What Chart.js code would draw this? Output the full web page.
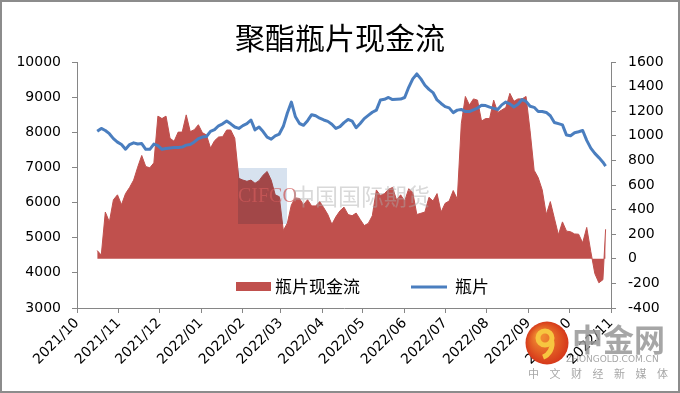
<!DOCTYPE html>
<html>
<head>
<meta charset="utf-8">
<script src="https://cdn.jsdelivr.net/npm/chart.js@4.4.0/dist/chart.umd.min.js"></script>
<style>
html, body { margin: 0; padding: 0; background: #fff; }
#wrap { width: 680px; height: 393px; }
</style>
</head>
<body>
<div id="wrap"><canvas id="myChart" width="680" height="393"></canvas></div>
<script>
// 日期
var dates = [
    '2021-10-16','2021-10-19','2021-10-22','2021-10-25','2021-10-28','2021-10-31',
    '2021-11-03','2021-11-06','2021-11-09','2021-11-12','2021-11-15','2021-11-18','2021-11-21','2021-11-24','2021-11-27','2021-11-30',
    '2021-12-03','2021-12-06','2021-12-09','2021-12-12','2021-12-15','2021-12-18','2021-12-21','2021-12-24','2021-12-27','2021-12-30',
    '2022-01-02','2022-01-05','2022-01-08','2022-01-11','2022-01-14','2022-01-17','2022-01-20','2022-01-23','2022-01-26','2022-01-29',
    '2022-02-01','2022-02-04','2022-02-07','2022-02-10','2022-02-13','2022-02-16','2022-02-19','2022-02-22','2022-02-25','2022-02-28',
    '2022-03-03','2022-03-06','2022-03-09','2022-03-12','2022-03-15','2022-03-18','2022-03-21','2022-03-24','2022-03-27','2022-03-30',
    '2022-04-02','2022-04-05','2022-04-08','2022-04-11','2022-04-14','2022-04-17','2022-04-20','2022-04-23','2022-04-26','2022-04-29',
    '2022-05-02','2022-05-05','2022-05-08','2022-05-11','2022-05-14','2022-05-17','2022-05-20','2022-05-23','2022-05-26','2022-05-29',
    '2022-06-01','2022-06-04','2022-06-07','2022-06-10','2022-06-13','2022-06-16','2022-06-19','2022-06-22','2022-06-25','2022-06-28',
    '2022-07-01','2022-07-04','2022-07-07','2022-07-10','2022-07-13','2022-07-16','2022-07-19','2022-07-22','2022-07-25','2022-07-28','2022-07-31',
    '2022-08-03','2022-08-06','2022-08-09','2022-08-12','2022-08-15','2022-08-18','2022-08-21','2022-08-24','2022-08-27','2022-08-30',
    '2022-09-02','2022-09-05','2022-09-08','2022-09-11','2022-09-14','2022-09-17','2022-09-20','2022-09-23','2022-09-26','2022-09-29',
    '2022-10-02','2022-10-05','2022-10-08','2022-10-11','2022-10-14','2022-10-17','2022-10-20','2022-10-23','2022-10-26','2022-10-28'
];

// 瓶片 (左轴)
var price = [
    8030, 8110, 8050, 7960, 7820, 7720,
    7650, 7520, 7650, 7700, 7665, 7680, 7515, 7515, 7665, 7620,
    7515, 7540, 7555, 7565, 7570, 7580, 7635, 7655, 7725, 7820,
    7865, 7880, 8025, 8075, 8185, 8240, 8320, 8240, 8150, 8110,
    8190, 8245, 8350, 8070, 8150, 8020, 7860, 7805, 7900, 7950,
    8170, 8550, 8860, 8440, 8250, 8200, 8330, 8500, 8470, 8400,
    8350, 8310, 8230, 8110, 8160, 8275, 8365, 8320, 8130, 8250,
    8390, 8480, 8570, 8630, 8920, 8940, 8990, 8930, 8940, 8945,
    8990, 9280, 9520, 9660, 9520, 9340, 9220, 9130, 8920, 8820,
    8730, 8695, 8560, 8630, 8650, 8590, 8590, 8640, 8690, 8770, 8760,
    8715, 8680, 8650, 8780, 8860, 8810, 8720, 8800, 8930, 8880,
    8740, 8710, 8590, 8590, 8565, 8470, 8280, 8245, 8210, 7920,
    7900, 7985, 8015, 8050, 7770, 7550, 7400, 7280, 7150, 7040
];

// 瓶片现金流 (右轴)
var cashflow = [
    67, 30, 380, 300, 480, 520,
    440, 530, 580, 640, 745, 840, 750, 740, 780, 1160,
    1140, 1160, 980, 955, 1030, 1030, 1170, 1034, 1050, 1090,
    1025, 1007, 900, 960, 990, 993, 1047, 1047, 980, 654,
    640, 630, 640, 614, 635, 680, 710, 640, 520, 505,
    230, 290, 440, 495, 490, 440, 480, 430, 430, 465,
    415, 360, 280, 342, 390, 420, 360, 350, 372, 320,
    270, 288, 350, 560, 515, 530, 565, 580, 478, 520,
    470, 570, 540, 360, 370, 380, 500, 470, 530, 380,
    451, 470, 555, 485, 1100, 1320, 1250, 1300, 1290, 1120, 1140,
    1140, 1290, 1190, 1210, 1230, 1345, 1280, 1300, 1300, 1320,
    1040, 720, 660, 560, 360, 465, 330, 195, 300, 225,
    220, 202, 200, 130, 255, 60, -120, -195, -170, 240
];

var months = ['2021/10', '2021/11', '2021/12', '2022/01', '2022/02', '2022/03', '2022/04',
    '2022/05', '2022/06', '2022/07', '2022/08', '2022/09', '2022/10', '2022/11'];

var base = Date.parse('2021-10-01');
function dayOf(s) {
    return Math.round((Date.parse(s) - base) / 86400000);
}
var monthPos = months.map(function (m) { return dayOf(m.replace('/', '-') + '-01'); });

var priceData = dates.map(function (d, i) { return { x: dayOf(d), y: price[i] }; });
var cashData = dates.map(function (d, i) { return { x: dayOf(d), y: cashflow[i] }; });

var axisFont = { family: 'DejaVu Sans', size: 14 };
var axisColor = '#868686';

function plainNum(value) {
    return String(value);
}

var decor = {
    id: 'decor',
    beforeDraw: function (chart) {
        var ctx = chart.ctx;
        ctx.save();
        ctx.fillStyle = '#fff';
        ctx.fillRect(0, 0, chart.width, chart.height);
        ctx.restore();
    },
    afterDatasetsDraw: function (chart) {
        var ctx = chart.ctx;
        ctx.save();
        // 水印
        ctx.globalCompositeOperation = 'multiply';
        ctx.fillStyle = '#d7e2ef';
        ctx.fillRect(238, 168, 49, 56);
        ctx.globalCompositeOperation = 'source-over';
        ctx.fillStyle = 'rgba(205,90,90,0.75)';
        ctx.font = '20px "Liberation Serif"';
        ctx.textBaseline = 'middle';
        ctx.fillText('CIFCO', 238, 197);
        ctx.fillStyle = 'rgba(170,170,170,0.45)';
        ctx.font = '23px "Noto Sans CJK SC"';
        ctx.fillText('中国国际期货', 292, 196);

        // 图例
        ctx.fillStyle = '#C0504D';
        ctx.fillRect(236, 282, 35, 9);
        ctx.fillStyle = '#000';
        ctx.font = '17px "Noto Sans CJK SC"';
        ctx.fillText('瓶片现金流', 275, 287);
        ctx.strokeStyle = '#4A7EBF';
        ctx.lineWidth = 3;
        ctx.beginPath();
        ctx.moveTo(411, 287);
        ctx.lineTo(447, 287);
        ctx.stroke();
        ctx.fillText('瓶片', 455, 287);
        ctx.restore();
    },
    afterDraw: function (chart) {
        var ctx = chart.ctx;
        ctx.save();
        // logo
        var g = ctx.createRadialGradient(540, 336, 4, 547, 343, 22);
        g.addColorStop(0, '#f08a30');
        g.addColorStop(1, '#d5361a');
        ctx.fillStyle = g;
        ctx.beginPath();
        ctx.arc(547, 343, 21.5, 0, Math.PI * 2);
        ctx.fill();
        ctx.strokeStyle = '#f7c640';
        ctx.lineWidth = 5;
        ctx.beginPath();
        ctx.arc(545, 338, 7, 0, Math.PI * 2);
        ctx.stroke();
        ctx.beginPath();
        ctx.arc(538, 344, 14, -0.2, 1.2);
        ctx.stroke();
        ctx.fillStyle = 'rgba(150,150,150,0.85)';
        ctx.font = 'bold 31px "Noto Sans CJK SC"';
        ctx.textBaseline = 'middle';
        ctx.fillText('中金网', 572, 339);
        ctx.font = '9px "DejaVu Sans"';
        ctx.fillText('ZHONGOLD.COM.CN', 566, 360);
        ctx.font = '11px "Noto Sans CJK SC"';
        var t = '中文财经新媒体';
        for (var i = 0; i < t.length; i++) {
            ctx.fillText(t[i], 528 + i * 21.5, 374);
        }
        // 边框
        ctx.strokeStyle = '#8c8c8c';
        ctx.lineWidth = 2;
        ctx.strokeRect(1, 1, chart.width - 2, chart.height - 2);
        ctx.restore();
    }
};

var ctx = document.getElementById('myChart');
var myChart = new Chart(ctx, {
    type: 'line',
    data: {
        datasets: [{
            label: '瓶片',
            data: priceData,
            yAxisID: 'y',
            borderColor: '#4A7EBF',
            borderWidth: 3,
            borderJoinStyle: 'round',
            pointRadius: 0,
            fill: false,
            tension: 0
        }, {
            label: '瓶片现金流',
            data: cashData,
            yAxisID: 'y1',
            borderColor: '#C0504D',
            backgroundColor: '#C0504D',
            borderWidth: 1,
            pointRadius: 0,
            fill: 'origin',
            tension: 0
        }]
    },
    options: {
        responsive: false,
        animation: false,
        devicePixelRatio: 1,
        layout: { padding: 0 },
        plugins: {
            legend: { display: false },
            tooltip: { enabled: false },
            title: {
                display: true,
                text: '聚酯瓶片现金流',
                color: '#000',
                font: { family: 'Noto Sans CJK SC', size: 30, weight: 'normal', lineHeight: 1.2 },
                padding: { top: 20, bottom: 6 }
            }
        },
        scales: {
            x: {
                type: 'linear',
                min: 0,
                max: 396,
                afterBuildTicks: function (axis) {
                    axis.ticks = monthPos.map(function (v) { return { value: v }; });
                },
                afterFit: function (axis) { axis.height = 85; },
                ticks: {
                    autoSkip: false,
                    maxRotation: 45,
                    minRotation: 45,
                    padding: 2,
                    color: '#000',
                    font: axisFont,
                    callback: function (value, index) { return months[index]; }
                },
                grid: { drawOnChartArea: false, drawTicks: true, tickLength: 5, color: axisColor },
                border: { display: true, color: axisColor }
            },
            y: {
                position: 'left',
                min: 3000,
                max: 10000,
                afterFit: function (axis) { axis.width = 77; },
                ticks: { stepSize: 1000, padding: 11, color: '#000', font: axisFont, callback: plainNum },
                grid: { drawOnChartArea: false, drawTicks: true, tickLength: 5, color: axisColor },
                border: { display: true, color: axisColor }
            },
            y1: {
                position: 'right',
                min: -400,
                max: 1600,
                afterFit: function (axis) { axis.width = 69; },
                ticks: { stepSize: 200, padding: 12, color: '#000', font: axisFont, callback: plainNum },
                grid: { drawOnChartArea: false, drawTicks: true, tickLength: 5, color: axisColor },
                border: { display: true, color: axisColor }
            }
        }
    },
    plugins: [decor]
});
</script>
</body>
</html>
